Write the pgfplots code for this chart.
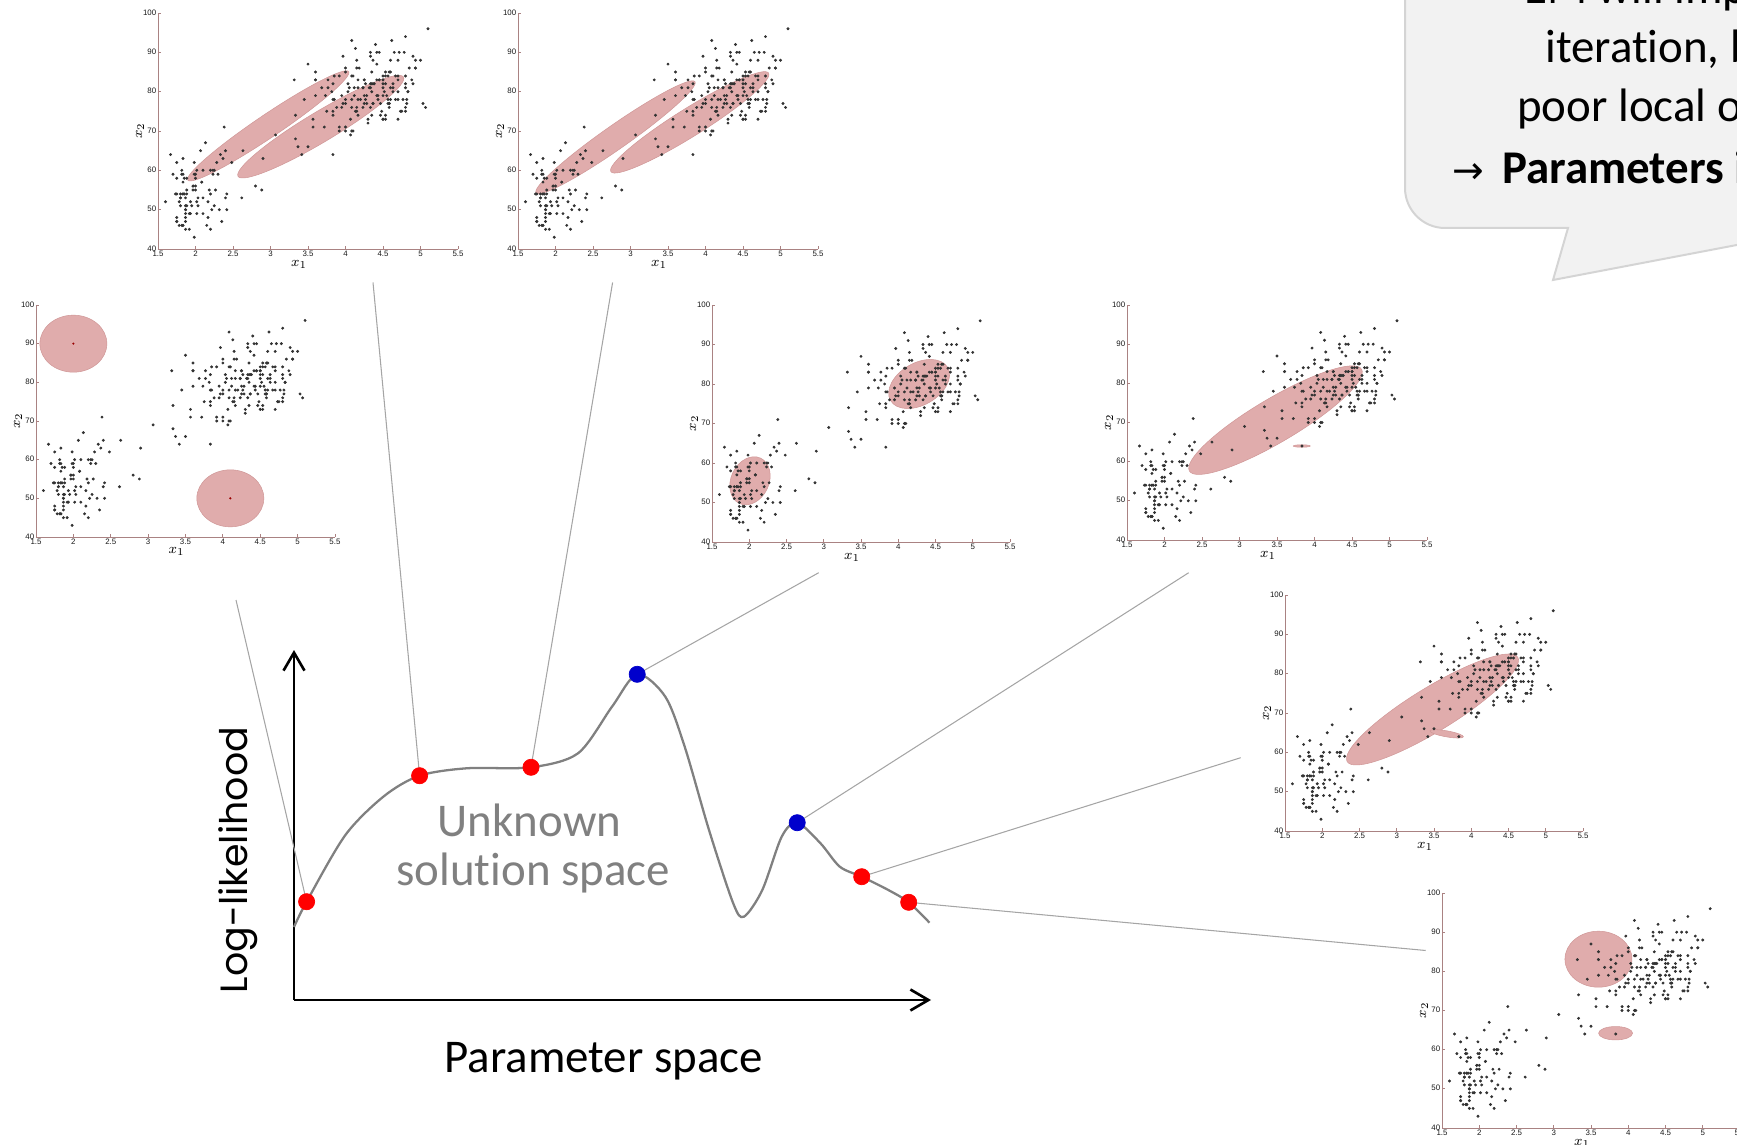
\documentclass[border=0pt]{standalone}
\usepackage{fontspec}
\setmainfont{Carlito}[Ligatures=NoCommon]
\newfontfamily\poppins{Poppins}
\newfontfamily\dejavu{DejaVu Sans}
\newfontfamily\ticksans{Liberation Sans}
\usepackage{pgfplots}
\usepackage{pgfplotstable}
\pgfplotsset{compat=1.18}
\usetikzlibrary{arrows.meta}

\definecolor{ellfill}{RGB}{224,172,172}
\definecolor{ellline}{RGB}{208,152,152}
\definecolor{axcol}{RGB}{170,130,130}
\definecolor{curvegray}{RGB}{128,128,128}
\definecolor{leadergray}{RGB}{165,165,165}
\definecolor{dotred}{RGB}{255,0,0}
\definecolor{dotblue}{RGB}{0,0,204}
\definecolor{calloutfill}{RGB}{242,242,242}
\definecolor{calloutline}{RGB}{212,212,212}
\definecolor{labelgray}{RGB}{128,128,128}

\newcommand\slidefont{\fontsize{26.7pt}{32pt}\selectfont}
\newcommand\tickfont{\ticksans\fontsize{4.5pt}{5.5pt}\selectfont}
\newcommand\varfont{\fontsize{8pt}{9pt}\selectfont}

% Old Faithful: eruption duration (x) and waiting time (y)
\pgfplotstableread{
x y
3.600 79
1.800 54
3.333 74
2.283 62
4.533 85
2.883 55
4.700 88
3.600 85
1.950 51
4.350 85
1.833 54
3.917 84
4.200 78
1.750 47
4.700 83
2.167 52
1.750 62
4.800 84
1.600 52
4.250 79
1.800 51
1.750 47
3.450 78
3.067 69
4.533 74
3.600 83
1.967 55
4.083 76
3.850 78
4.433 79
4.300 73
4.467 77
3.367 66
4.033 80
3.833 74
2.017 52
1.867 48
4.833 80
1.833 59
4.783 90
4.350 80
1.883 58
4.567 84
1.750 58
4.533 73
3.317 83
3.833 64
2.100 53
4.633 82
2.000 59
4.800 75
4.716 90
1.833 54
4.833 80
1.733 54
4.883 83
3.717 71
1.667 64
4.567 77
4.317 81
2.233 59
4.500 84
1.750 48
4.800 82
1.817 60
4.400 92
4.167 78
4.700 78
2.067 65
4.700 73
4.033 82
1.967 56
4.500 79
4.000 71
1.983 62
5.067 76
2.017 60
4.567 78
3.883 76
3.600 83
4.133 75
4.333 82
4.100 70
2.633 65
4.067 73
4.933 88
3.950 76
4.517 80
2.167 48
4.000 86
2.200 60
4.333 90
1.867 50
4.817 78
1.833 63
4.300 72
4.667 84
3.750 75
1.867 51
4.900 82
2.483 62
4.367 88
2.100 49
4.500 83
4.050 81
1.867 47
4.700 84
1.783 52
4.850 86
3.683 81
4.733 75
2.300 59
4.900 89
4.417 79
1.700 59
4.633 81
2.317 50
4.600 85
1.817 59
4.417 87
2.617 53
4.067 69
4.250 77
1.967 56
4.600 88
3.767 81
1.917 45
4.500 82
2.267 55
4.650 90
1.867 45
4.167 83
2.800 56
4.333 89
1.833 46
4.383 82
1.883 51
4.933 86
2.033 53
3.733 79
4.233 81
2.233 60
4.533 82
4.817 77
4.333 76
1.983 59
4.633 80
2.017 49
5.100 96
1.800 53
5.033 77
4.000 77
2.400 65
4.600 81
3.567 71
4.000 70
4.500 81
4.083 93
1.800 53
3.967 89
2.200 45
4.150 86
2.000 58
3.833 78
3.500 66
4.583 76
2.367 63
5.000 88
1.933 52
4.617 93
1.917 49
2.083 57
4.583 77
3.333 68
4.167 81
4.333 81
4.500 73
2.417 50
4.000 85
4.167 74
1.883 55
4.583 77
4.250 83
3.767 83
2.033 51
4.433 78
4.083 84
1.833 46
4.417 83
2.183 55
4.800 81
1.833 57
4.800 76
4.100 84
3.966 77
4.233 81
3.500 87
4.366 77
2.250 51
4.667 78
2.100 60
4.350 82
4.133 91
1.867 53
4.600 78
1.783 46
4.367 77
3.850 84
1.933 49
4.500 83
2.383 71
4.700 80
1.867 49
3.833 75
3.417 64
4.233 76
2.400 53
4.800 94
2.000 55
4.150 76
1.867 50
4.267 82
1.750 54
4.483 75
4.000 78
4.117 79
4.083 78
4.267 78
3.917 70
4.550 79
4.083 70
2.417 54
4.183 86
2.217 50
4.450 90
1.883 54
1.850 54
4.283 77
3.950 79
2.333 64
4.150 75
2.350 47
4.933 86
2.900 63
4.583 85
3.833 82
2.083 57
4.367 82
2.133 67
4.350 74
2.200 54
4.450 83
3.567 73
4.500 73
4.150 88
3.817 80
3.917 71
4.450 83
2.000 56
4.283 79
4.767 78
4.533 84
1.850 58
4.250 83
1.983 43
2.250 60
4.750 75
4.117 81
2.150 46
4.417 90
1.817 46
4.467 74
}\faithful

\tikzset{gauss/.style={fill=ellfill, draw=ellline, line width=0.3pt}}

\pgfplotsset{
  mini/.style={
    anchor=south west, scale only axis,
    xmin=1.5, xmax=5.5, ymin=40, ymax=100,
    axis lines*=left,
    axis line style={draw=axcol, line width=0.5pt},
    xtick={1.5,2,2.5,3,3.5,4,4.5,5,5.5},
    xticklabels={1.5,2,2.5,3,3.5,4,4.5,5,5.5},
    ytick={40,50,60,70,80,90,100},
    yticklabels={40,50,60,70,80,90,100},
    tick align=inside,
    major tick length=0.06cm,
    tick style={draw=axcol, line width=0.5pt},
    tick label style={font=\tickfont, inner sep=0.8pt, text=black!90},
    yticklabel style={yshift=0.4pt},
    xticklabel style={yshift=-0.3pt},
    xlabel={$x_1$}, ylabel={$x_2$},
    xlabel style={font=\varfont, at={(axis description cs:0.47,-0.064)}, anchor=center, inner sep=0pt},
    ylabel style={font=\varfont, at={(axis description cs:-0.06,0.5)}, anchor=center, inner sep=0pt},
  },
  faith/.style={only marks, mark=*, mark size=0.62pt, color=black!80, mark options={draw=none, fill=black!80}},
}

\begin{document}
\begin{tikzpicture}
\useasboundingbox (0,0) rectangle (34.74,-22.90);
\clip (0,0) rectangle (34.74,-22.90);

% speech bubble
\filldraw[fill=calloutfill, draw=calloutline, line width=0.04cm]
  (28.10,1) -- (28.10,-3.76) arc[start angle=180, end angle=270, radius=0.8]
  -- (31.36,-4.56) -- (31.06,-5.60) -- (36.52,-4.56) -- (38,-4.56) -- (38,1) -- cycle;
\node[font=\slidefont, anchor=base west, inner sep=0] at (30.48,-0.08) {EM will improve the likelihood in every};
\node[font=\slidefont, anchor=base west, inner sep=0] at (30.90,-1.254) {iteration, but may converge to a};
\node[font=\slidefont, anchor=base west, inner sep=0] at (30.34,-2.434) {poor local optimum};
\node[font=\dejavu\fontsize{21.5pt}{24pt}\selectfont, anchor=base west, inner sep=0] at (29.04,-3.666) {→};
\node[font=\slidefont\bfseries, anchor=base west, inner sep=0] at (30.04,-3.666) {Parameters initialization matters};

% log-likelihood landscape
\begin{axis}[
  at={(5.88cm,-20cm)}, anchor=south west, scale only axis,
  width=12.74cm, height=7cm,
  xmin=0, xmax=637, ymin=0, ymax=350,
  every non boxed x axis/.append style={x axis line style={-{Straight Barb[length=0.36cm,width=0.42cm,line width=1.5pt]}}},
  every non boxed y axis/.append style={y axis line style={-{Straight Barb[length=0.36cm,width=0.42cm,line width=1.5pt]}}},
  axis lines=left,
  axis line style={line width=1.5pt, black},
  xtick=\empty, ytick=\empty, clip=false,
]
\addplot[smooth, draw=curvegray, line width=1.3pt] coordinates {
  (0,73) (12.6,98.3) (51.4,165) (90.2,204) (125.6,224.3) (172.6,231.7)
  (237,232.7) (284,246.7) (318,293.3) (343.2,325.7) (371.3,303.3) (390.7,253.3)
  (415,170) (439.2,96.7) (449.9,83.3) (468.3,110) (487.7,163.3) (503.2,177.3)
  (526.5,156.7) (545.8,133.3) (567.7,123.3) (594.3,110) (614.7,97.7) (635.5,77.3)};
\draw[leadergray, line width=0.6pt] (axis cs:12.6,98.3) -- (axis cs:-58,400);
\draw[leadergray, line width=0.6pt] (axis cs:125.6,224.3) -- (axis cs:79,717.5);
\draw[leadergray, line width=0.6pt] (axis cs:237,232.7) -- (axis cs:318.6,717.5);
\draw[leadergray, line width=0.6pt] (axis cs:343.2,325.7) -- (axis cs:524.7,427.3);
\draw[leadergray, line width=0.6pt] (axis cs:503.2,177.3) -- (axis cs:894.7,427.3);
\draw[leadergray, line width=0.6pt] (axis cs:567.7,123.3) -- (axis cs:946.7,242.3);
\draw[leadergray, line width=0.6pt] (axis cs:614.7,97.7) -- (axis cs:1131.7,49.5);
\addplot[only marks, mark=*, mark size=4.6pt, color=dotred, mark options={draw=none, fill=dotred}]
  coordinates {(12.6,98.3) (125.6,224.3) (237,232.7) (567.7,123.3) (614.7,97.7)};
\addplot[only marks, mark=*, mark size=4.6pt, color=dotblue, mark options={draw=none, fill=dotblue}]
  coordinates {(343.2,325.7) (503.2,177.3)};
\end{axis}

\node[font=\slidefont, anchor=base, inner sep=0] at (12.074,-21.44) {Parameter space};
\node[font=\slidefont, text=labelgray, anchor=base, inner sep=0] at (10.59,-16.734) {Unknown};
\node[font=\slidefont, text=labelgray, anchor=base, inner sep=0] at (10.666,-17.70) {solution space};
\node[font=\poppins\fontsize{21.6pt}{26pt}\selectfont, rotate=90, anchor=center, inner sep=0] at (4.76,-17.2) {Log-likelihood};

% mixture fits at the marked points
\begin{axis}[mini, at={(0.72cm,-10.74cm)}, width=5.98cm, height=4.64cm]
\path[gauss] (axis cs:2.0,90) ellipse[x radius=0.67cm, y radius=0.57cm];
\path[gauss] (axis cs:4.1,50) ellipse[x radius=0.67cm, y radius=0.57cm];
\addplot[only marks, mark=*, mark size=0.4pt, color=red!60!black] coordinates {(2.0,90) (4.1,50)};
\addplot[faith] table {\faithful};
\end{axis}

\begin{axis}[mini, at={(3.16cm,-4.98cm)}, width=6cm, height=4.72cm]
\path[gauss, rotate around={34:(axis cs:2.97,71.3)}] (axis cs:2.97,71.3) ellipse[x radius=1.94cm, y radius=0.23cm];
\path[gauss, rotate around={31:(axis cs:3.67,71.1)}] (axis cs:3.67,71.1) ellipse[x radius=1.93cm, y radius=0.30cm];
\addplot[faith] table {\faithful};
\end{axis}

\begin{axis}[mini, at={(10.36cm,-4.98cm)}, width=6cm, height=4.72cm]
\path[gauss, rotate around={35:(axis cs:2.80,68.4)}] (axis cs:2.80,68.4) ellipse[x radius=1.94cm, y radius=0.24cm];
\path[gauss, rotate around={32:(axis cs:3.79,72.2)}] (axis cs:3.79,72.2) ellipse[x radius=1.86cm, y radius=0.28cm];
\addplot[faith] table {\faithful};
\end{axis}

\begin{axis}[mini, at={(14.24cm,-10.84cm)}, width=5.96cm, height=4.74cm]
\path[gauss, rotate around={65:(axis cs:2.01,55.5)}] (axis cs:2.01,55.5) ellipse[x radius=0.50cm, y radius=0.38cm];
\path[gauss, rotate around={30:(axis cs:4.28,80.0)}] (axis cs:4.28,80.0) ellipse[x radius=0.66cm, y radius=0.42cm];
\addplot[faith] table {\faithful};
\end{axis}

\begin{axis}[mini, at={(22.54cm,-10.80cm)}, width=6cm, height=4.70cm]
\path[gauss, rotate around={30.6:(axis cs:3.48,70.6)}] (axis cs:3.48,70.6) ellipse[x radius=2.0cm, y radius=0.44cm];
\path[gauss] (axis cs:3.83,64) ellipse[x radius=0.17cm, y radius=0.025cm];
\addplot[faith] table {\faithful};
\end{axis}

\begin{axis}[mini, at={(25.70cm,-16.62cm)}, width=5.96cm, height=4.72cm]
\path[gauss, rotate around={31.5:(axis cs:3.48,70.9)}] (axis cs:3.48,70.9) ellipse[x radius=2.0cm, y radius=0.44cm];
\path[gauss, rotate around={-10:(axis cs:3.67,64.7)}] (axis cs:3.67,64.7) ellipse[x radius=0.34cm, y radius=0.06cm];
\addplot[faith] table {\faithful};
\end{axis}

\begin{axis}[mini, at={(28.84cm,-22.56cm)}, width=5.96cm, height=4.70cm]
\path[gauss] (axis cs:3.60,83.1) ellipse[x radius=0.67cm, y radius=0.56cm];
\path[gauss] (axis cs:3.83,64.2) ellipse[x radius=0.34cm, y radius=0.134cm];
\addplot[faith] table {\faithful};
\end{axis}
\end{tikzpicture}
\end{document}
